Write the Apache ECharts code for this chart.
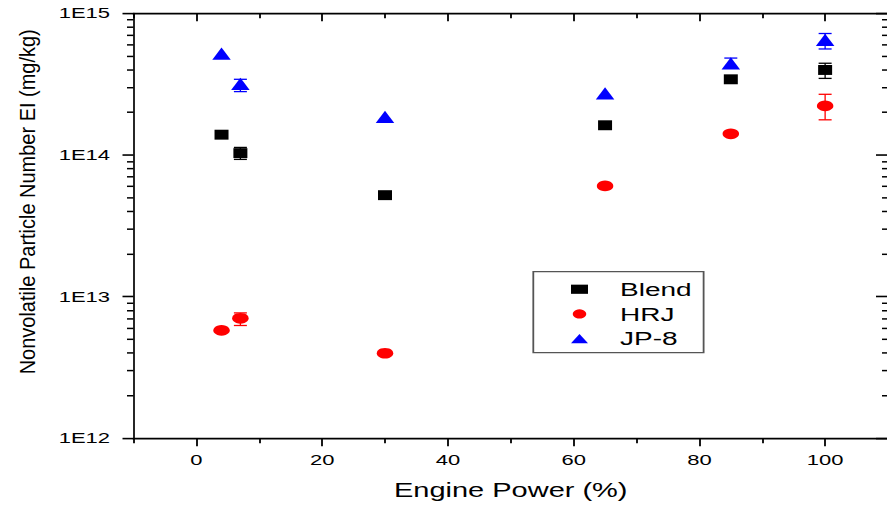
<!DOCTYPE html>
<html>
<head>
<meta charset="utf-8">
<script src="https://cdn.jsdelivr.net/npm/echarts/dist/echarts.min.js"></script>
<style>
html,body{margin:0;padding:0;background:#fff;overflow:hidden;width:887px;height:506px;}
#wrap{position:absolute;left:0;top:0;width:887px;transform-origin:0 0;}
</style>
</head>
<body>
<div id="wrap"></div>
<script>
// ---------------- data ----------------
const enginePower = [4, 7, 30, 65, 85, 100];

const blendEI     = [1.39e14, 1.03e14, 5.2e13, 1.62e14, 3.42e14, 3.98e14];
const blendErrLow = [null, 0.93e14, null, null, null, 3.47e14];
const blendErrHigh= [null, 1.13e14, null, null, null, 4.44e14];

const hrjEI       = [5.77e12, 7.03e12, 3.98e12, 6.04e13, 1.41e14, 2.22e14];
const hrjErrLow   = [null, 6.25e12, null, null, null, 1.77e14];
const hrjErrHigh  = [null, 7.67e12, null, null, null, 2.68e14];

const jp8EI       = [5.2e14, 3.18e14, 1.86e14, 2.72e14, 4.43e14, 6.5e14];
const jp8ErrLow   = [null, 2.8e14, null, null, 4.11e14, 5.6e14];
const jp8ErrHigh  = [null, 3.42e14, null, null, 4.83e14, 7.2e14];

const seriesNames = ['Blend', 'HRJ', 'JP-8'];

const xMajorTicks = [0, 20, 40, 60, 80, 100];
const xMinorTicks = [-10, 10, 30, 50, 70, 90, 110];
const yTickValues = [1e12, 1e13, 1e14, 1e15];
const yTickLabels = ['1E12', '1E13', '1E14', '1E15'];
const yMinorMultipliers = [2, 3, 4, 5, 6, 7, 8, 9];

const xTitle = 'Engine Power (%)';
const yTitle = 'Nonvolatile Particle Number EI (mg/kg)';

// ---------------- layout helpers ----------------
const S = 0.68;                 // vertical squash of the reference picture
const vy = v => v / S;          // real px -> virtual px (vertical)
const wrap = document.getElementById('wrap');
wrap.style.height = (506 / S) + 'px';
wrap.style.transform = 'scaleY(' + S + ')';

const FONT = "'Liberation Sans', Arial, Helvetica, sans-serif";

const minorExps = [];
for (let d = 12; d < 15; d++) {
  yMinorMultipliers.forEach(m => minorExps.push(d + Math.log10(m)));
}
const majorExps = yTickValues.map(v => Math.round(Math.log10(v)));

function pts(ys) { return enginePower.map((x, i) => [x, ys[i]]); }
function errs(lo, hi) {
  return enginePower.map((x, i) => lo[i] == null ? null : [x, lo[i], hi[i]]).filter(Boolean);
}
function errRender(color) {
  return function (params, api) {
    const x = api.value(0), lo = api.value(1), hi = api.value(2);
    const t = api.coord([x, hi]), b = api.coord([x, lo]);
    const hw = 6.5;
    const st = { stroke: color, lineWidth: 1.3 };
    const cs = { stroke: color, lineWidth: 1.3 / S };
    return {
      type: 'group',
      children: [
        { type: 'line', shape: { x1: t[0], y1: t[1], x2: b[0], y2: b[1] }, style: st },
        { type: 'line', shape: { x1: t[0] - hw, y1: t[1], x2: t[0] + hw, y2: t[1] }, style: cs },
        { type: 'line', shape: { x1: b[0] - hw, y1: b[1], x2: b[0] + hw, y2: b[1] }, style: cs }
      ]
    };
  };
}

const black = '#000';
const hiddenLine = { show: false, onZero: false };
const xBase = {
  type: 'value', min: -10, max: 110,
  splitLine: { show: false },
  axisLine: hiddenLine,
  axisLabel: { show: false },
  axisTick: { show: false }
};
const yBase = {
  type: 'value', min: 12, max: 15,
  splitLine: { show: false },
  axisLine: hiddenLine,
  axisLabel: { show: false },
  axisTick: { show: false }
};

const chart = echarts.init(wrap, null, { renderer: 'svg' });
chart.setOption({
  animation: false,
  backgroundColor: '#fff',
  textStyle: { fontFamily: FONT },
  grid: {
    left: 133.5, right: -1, top: vy(13.3), bottom: vy(67.7),
    containLabel: false, outerBoundsMode: 'none'
  },
  xAxis: [
    Object.assign({}, xBase, {
      position: 'bottom',
      axisLine: { show: true, onZero: false, lineStyle: { color: black, width: 1.7 / S } },
      axisTick: { show: true, customValues: xMajorTicks, length: vy(8), lineStyle: { color: black, width: 1.8 } },
      axisLabel: {
        show: true, customValues: xMajorTicks, fontSize: 22, color: black, margin: 21,
        fontFamily: FONT, formatter: v => String(v)
      },
      name: xTitle, nameLocation: 'middle', nameGap: 62,
      nameTextStyle: { fontSize: 29, color: black, fontFamily: FONT }
    }),
    Object.assign({}, xBase, {
      position: 'bottom',
      axisTick: { show: true, customValues: xMinorTicks, length: vy(5), lineStyle: { color: black, width: 1.8 } }
    }),
    Object.assign({}, xBase, {
      position: 'top',
      axisLine: { show: true, onZero: false, lineStyle: { color: black, width: 1.7 / S } },
      axisTick: { show: true, inside: true, customValues: xMajorTicks, length: vy(8), lineStyle: { color: black, width: 1.8 } }
    }),
    Object.assign({}, xBase, {
      position: 'top',
      axisTick: { show: true, inside: true, customValues: xMinorTicks, length: vy(5), lineStyle: { color: black, width: 1.8 } }
    })
  ],
  yAxis: [
    {
      type: 'log', logBase: 10, min: yTickValues[0], max: yTickValues[yTickValues.length - 1],
      position: 'left',
      splitLine: { show: false },
      axisLine: { show: true, onZero: false, lineStyle: { color: black, width: 1.7 } },
      axisTick: { show: true, length: 11, lineStyle: { color: black, width: 1.6 / S } },
      axisLabel: {
        fontSize: 22, color: black, margin: 23.5, fontFamily: FONT,
        formatter: v => yTickLabels[Math.round(Math.log10(v)) - 12]
      }
    },
    Object.assign({}, yBase, {
      position: 'left',
      axisTick: { show: true, customValues: minorExps, length: 6.5, lineStyle: { color: black, width: 1.5 / S } }
    }),
    Object.assign({}, yBase, {
      position: 'right',
      axisLine: { show: true, onZero: false, lineStyle: { color: black, width: 1.7 } },
      axisTick: { show: true, inside: true, customValues: majorExps, length: 12, lineStyle: { color: black, width: 1.6 / S } }
    }),
    Object.assign({}, yBase, {
      position: 'right',
      axisTick: { show: true, inside: true, customValues: minorExps, length: 6, lineStyle: { color: black, width: 1.5 / S } }
    })
  ],
  legend: {
    data: seriesNames,
    orient: 'vertical',
    left: 533.3,
    top: vy(271.7),
    padding: [10.8, 12, 5.6, 37.7],
    itemGap: 6.35,
    itemWidth: 17,
    itemHeight: 13.5,
    borderColor: '#555',
    borderWidth: 1.8,
    backgroundColor: '#fff',
    textStyle: {
      fontSize: 28, color: black, fontFamily: FONT, lineHeight: 30,
      padding: [0, 0, 0, 27]
    }
  },
  graphic: [{
    type: 'text',
    x: 28, y: vy(201.8),
    rotation: Math.PI / 2,
    scaleX: 345 / (22.5 * 17.28 * S),
    style: {
      text: yTitle, fontSize: 22.5, fontFamily: FONT, fill: black,
      align: 'center', verticalAlign: 'middle'
    }
  }],
  series: [
    { name: seriesNames[0], type: 'scatter', symbol: 'rect', symbolSize: [14, 14.6],
      itemStyle: { color: '#000', opacity: 1 }, data: pts(blendEI), z: 3 },
    { name: seriesNames[1], type: 'scatter', symbol: 'circle', symbolSize: [16.5, 15.8],
      itemStyle: { color: '#ff0000', opacity: 1 }, data: pts(hrjEI), z: 3 },
    { name: seriesNames[2], type: 'scatter', symbol: 'triangle', symbolSize: [18.5, 18],
      itemStyle: { color: '#0000ff', opacity: 1 }, data: pts(jp8EI), z: 3 },
    { name: 'Blend error', type: 'custom', renderItem: errRender('#000'),
      encode: { x: 0, y: [1, 2] }, data: errs(blendErrLow, blendErrHigh), z: 4, clip: false },
    { name: 'HRJ error', type: 'custom', renderItem: errRender('#ff0000'),
      encode: { x: 0, y: [1, 2] }, data: errs(hrjErrLow, hrjErrHigh), z: 4, clip: false },
    { name: 'JP-8 error', type: 'custom', renderItem: errRender('#0000ff'),
      encode: { x: 0, y: [1, 2] }, data: errs(jp8ErrLow, jp8ErrHigh), z: 4, clip: false }
  ]
});
</script>
</body>
</html>
